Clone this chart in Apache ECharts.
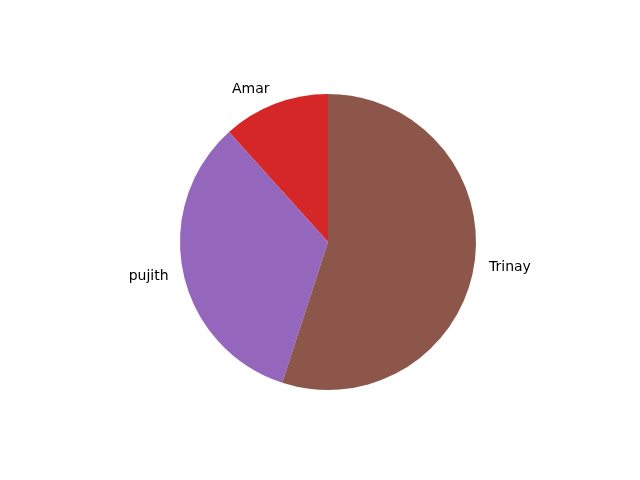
<!DOCTYPE html>
<html>
<head>
<meta charset="utf-8">
<script src="https://cdn.jsdelivr.net/npm/echarts@6/dist/echarts.min.js"></script>
<style>html,body{margin:0;padding:0;background:#fff;}#c{width:640px;height:480px;}</style>
</head>
<body>
<div id="c"></div>
<script>
const names = ['Amar', 'pujith', 'Trinay'];
const values = [7, 20, 33];
const colors = ['#d62728', '#9467bd', '#8c564b'];

const chart = echarts.init(document.getElementById('c'), null, {renderer: 'canvas'});
chart.setOption({
  backgroundColor: '#ffffff',
  animation: false,
  series: [{
    type: 'pie',
    center: [328, 242],
    radius: [0, 148],
    startAngle: 90,
    clockwise: false,
    avoidLabelOverlap: false,
    data: names.map((n, i) => ({name: n, value: values[i], itemStyle: {color: colors[i]}})),
    label: {
      show: true,
      position: 'outside',
      formatter: '{b}',
      color: '#000',
      fontFamily: 'DejaVu Sans',
      fontSize: 14,
      padding: [3, 0, 0, 0],
      distanceToLabelLine: 0
    },
    labelLine: {show: false, length: 15, length2: 0},
    emphasis: {disabled: true}
  }]
});
</script>
</body>
</html>
